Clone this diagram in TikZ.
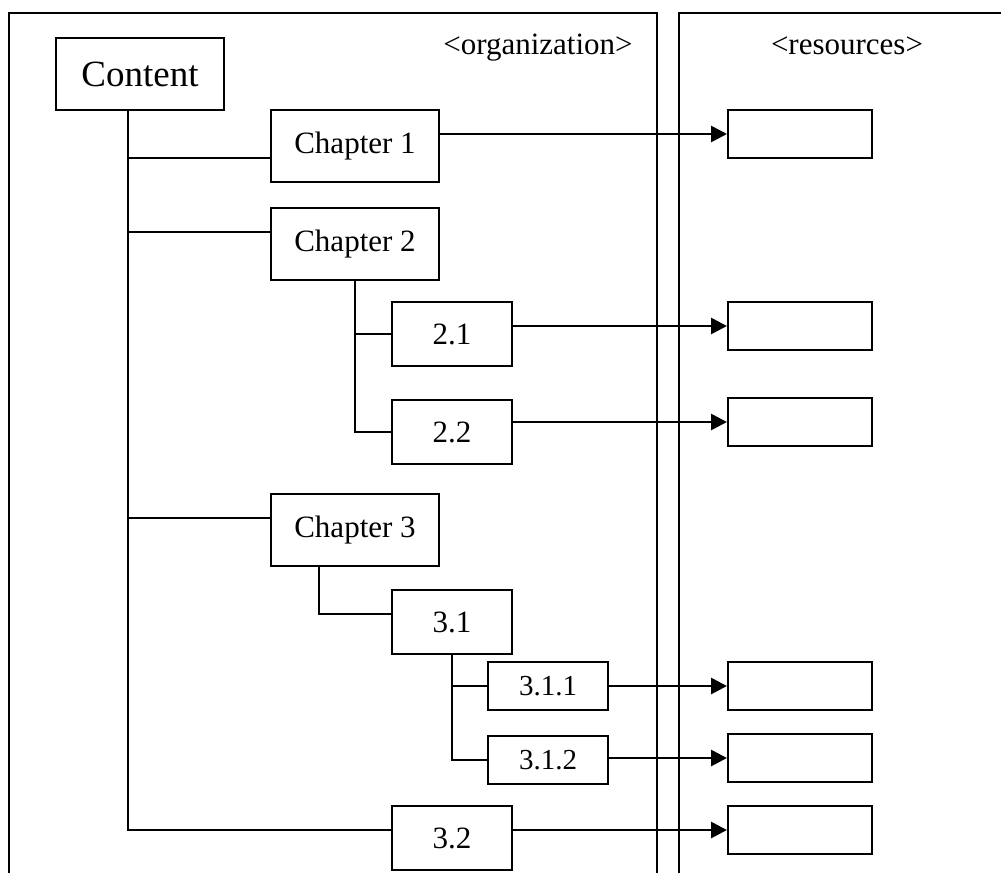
\documentclass[tikz,border=0pt]{standalone}
\usepackage{fontspec}
\setmainfont{Liberation Serif}
\usetikzlibrary{arrows.meta,positioning}

\begin{document}
\begin{tikzpicture}[
    x=0.5pt, y=-0.5pt,
    item/.style={draw, line width=1pt, inner sep=0pt, minimum width=84pt, minimum height=36pt, font=\fontsize{15.5}{18}\selectfont},
    sub/.style={item, minimum width=60pt, minimum height=32pt},
    leaf/.style={item, minimum width=60pt, minimum height=24pt, font=\fontsize{14.5}{17}\selectfont},
    res/.style={draw, line width=1pt, minimum width=72pt, minimum height=24pt, inner sep=0pt, anchor=north west},
    tree/.style={line width=0.8pt},
    link/.style={line width=1.4pt, -{Triangle[length=8pt,width=8pt]}},
    frame/.style={line width=1pt}
]
\useasboundingbox (0,0) rectangle (1001,873);

% panels
\draw[frame] (9,873) |- (657,13) -- (657,873);
\draw[frame] (679,873) |- (1001,13);
\node[anchor=base, font=\fontsize{15.5}{18}\selectfont] (org) at (538,54) {<organization>};
\node[anchor=base, font=\fontsize{15.5}{18}\selectfont] (resl) at (847,54) {<resources>};

% organization tree
\node[item, anchor=north west, font=\fontsize{18.5}{22}\selectfont] (content) at (55,37) {Content};
\node[item, anchor=north west] (ch1) at (270,109) {Chapter 1};
\node[item, below=12pt of ch1] (ch2) {Chapter 2};
\node[sub, anchor=north west] (s21) at (391,301) {2.1};
\node[sub, below=16pt of s21] (s22) {2.2};
\node[item, anchor=north west] (ch3) at (270,493) {Chapter 3};
\node[sub, anchor=north west] (s31) at (391,589) {3.1};
\node[leaf, anchor=north west] (s311) at (487,661) {3.1.1};
\node[leaf, below=12pt of s311] (s312) {3.1.2};
\node[sub, anchor=north west] (s32) at (391,805) {3.2};

\coordinate (stem) at ([xshift=-6pt]content.south);
\draw[tree] ([yshift=-6pt]ch1.west) -| (stem);
\draw[tree] ([yshift=6pt]ch2.west) -| (stem);
\draw[tree] ([yshift=6pt]ch3.west) -| (stem);
\draw[tree] ([yshift=4pt]s32.west) -| (stem);
\draw[tree] (s21.west) -| (ch2.south);
\draw[tree] (s22.west) -| (ch2.south);
\draw[tree] ([yshift=4pt]s31.west) -| ([xshift=-18pt]ch3.south);
\draw[tree] (s311.west) -| (s31.south);
\draw[tree] (s312.west) -| (s31.south);

% resources
\node[res] (r1) at (727,109) {};
\node[res] (r2) at (727,301) {};
\node[res] (r3) at (727,397) {};
\node[res] (r4) at (727,661) {};
\node[res] (r5) at (727,733) {};
\node[res] (r6) at (727,805) {};

\draw[link] (ch1.east |- r1.west) -- (r1.west);
\draw[link] (s21.east |- r2.west) -- (r2.west);
\draw[link] (s22.east |- r3.west) -- (r3.west);
\draw[link] (s311.east |- r4.west) -- (r4.west);
\draw[link] (s312.east |- r5.west) -- (r5.west);
\draw[link] (s32.east |- r6.west) -- (r6.west);
\end{tikzpicture}
\end{document}
